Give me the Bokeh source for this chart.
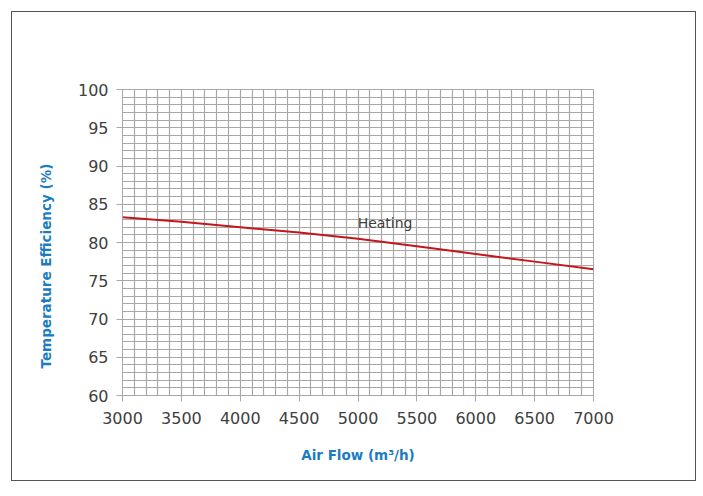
from bokeh.plotting import figure
from bokeh.models import Range1d, SingleIntervalTicker, Label, Title
from bokeh.embed import file_html
from bokeh.resources import INLINE

# Data
air_flow = [3000, 3500, 4000, 4500, 5000, 5500, 6000, 6500, 7000]
heating_eff = [83.3, 82.7, 82.0, 81.3, 80.5, 79.5, 78.5, 77.5, 76.5]
series_name = "Heating"
x_label = "Air Flow (m³/h)"
y_label = "Temperature Efficiency (%)"

TICK_COLOR = "#404040"
BLUE = "#1b7cc2"
GRID = "#a8a8a8"

p = figure(width=685, height=470, output_backend="svg", toolbar_location=None,
           x_range=Range1d(3000, 7000), y_range=Range1d(60, 100),
           min_border_left=110, min_border_top=77, min_border_right=104, min_border_bottom=87)
p.styles = {"border": "1px solid #555555", "margin": "11px 0 0 11px"}

p.outline_line_color = GRID
p.outline_line_width = 1

# grids
p.xgrid.ticker = SingleIntervalTicker(interval=100)
p.ygrid.ticker = SingleIntervalTicker(interval=1)
for g in (p.xgrid, p.ygrid):
    g.grid_line_color = GRID
    g.grid_line_width = 1.2

p.xaxis.ticker = SingleIntervalTicker(interval=500)
p.yaxis.ticker = SingleIntervalTicker(interval=5)
for ax in (p.xaxis, p.yaxis):
    ax.axis_line_color = GRID
    ax.major_tick_line_color = GRID
    ax.major_tick_out = 6
    ax.major_tick_in = 0
    ax.minor_tick_out = 0
    ax.minor_tick_in = 0
    ax.major_label_text_font = "DejaVu Sans"
    ax.major_label_text_font_size = "16px"
    ax.major_label_text_color = TICK_COLOR
p.yaxis.major_label_standoff = 8
p.xaxis.major_label_standoff = 10

p.xaxis.axis_label = x_label
p.xaxis.axis_label_text_font = "DejaVu Sans"
p.xaxis.axis_label_text_font_size = "13.5px"
p.xaxis.axis_label_text_font_style = "bold"
p.xaxis.axis_label_text_color = BLUE
p.xaxis.axis_label_standoff = 20

p.line(air_flow, heating_eff, line_color="#c4161c", line_width=2)

p.add_layout(Label(x=5230, y=82.5, text=series_name, text_font="DejaVu Sans",
                   text_font_size="14px", text_color=TICK_COLOR,
                   text_align="center", text_baseline="middle"))

ytitle = Title(text=y_label, align="left", offset=27, standoff=41,
               text_font="DejaVu Sans", text_font_size="13.5px",
               text_font_style="bold", text_color=BLUE)
p.add_layout(ytitle, "left")

open("out.html", "w").write(file_html(p, INLINE))
